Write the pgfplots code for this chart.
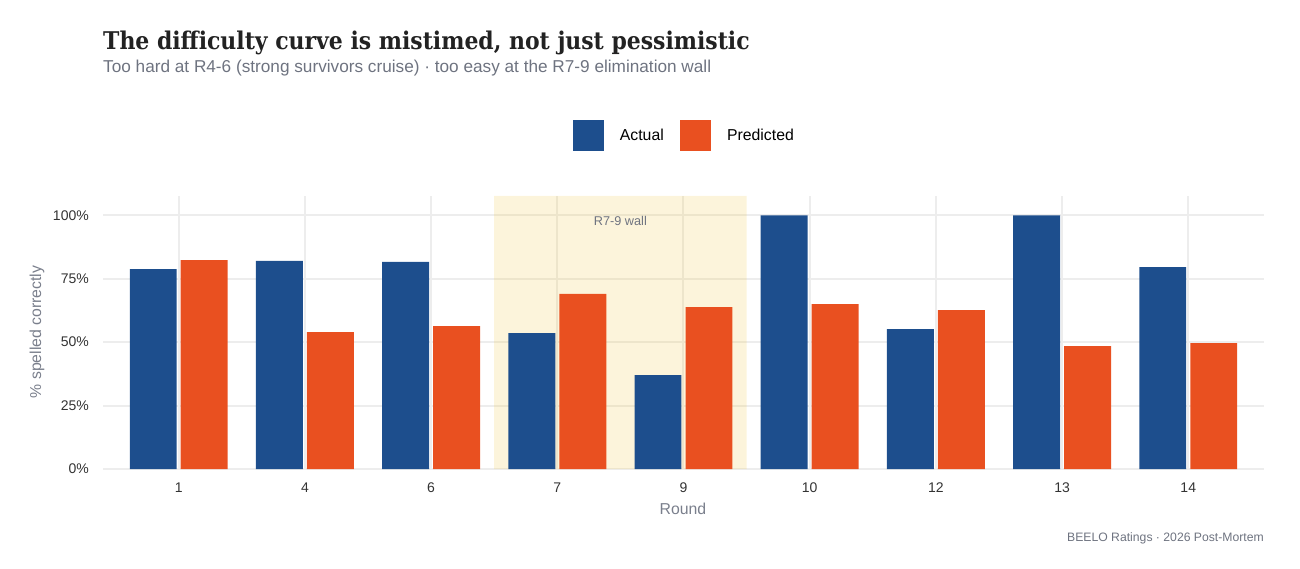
\documentclass[border=0pt]{standalone}
\usepackage{fontspec}
\setmainfont{Liberation Sans}
\newfontfamily\titlefont{DejaVu Serif Condensed}
\usepackage{pgfplots}
\usepackage{pgfplotstable}
\pgfplotsset{compat=1.18}
\definecolor{cBlue}{HTML}{1D4E8D}
\definecolor{cOrange}{HTML}{E95020}
\definecolor{cGrid}{HTML}{EDEDED}
\definecolor{cShade}{HTML}{F0BE28}
\definecolor{cTick}{HTML}{333333}
\definecolor{cSub}{HTML}{6E7380}
\definecolor{cAxis}{HTML}{7A7F8C}
\definecolor{cTitle}{HTML}{222222}

\pgfplotstableread{
x actual predicted
0 78.8 82.3
1 82.0 53.9
2 81.6 56.3
3 53.6 69.0
4 37.0 63.8
5 100 65.0
6 55.1 62.6
7 100 48.4
8 79.6 49.6
}\datatable

\begin{document}
\begin{tikzpicture}
\useasboundingbox (0pt,0pt) rectangle (1300pt,568pt);
\begin{axis}[
  at={(103pt,99pt)}, anchor=south west, scale only axis,
  width=1161pt, height=273pt,
  xmin=-0.6, xmax=8.6, ymin=0, ymax=107.6,
  axis line style={draw=none},
  major tick length=0pt,
  xtick={0,...,8}, xticklabels={1,4,6,7,9,10,12,13,14},
  ytick={0,25,50,75,100}, yticklabels={0\%,25\%,50\%,75\%,100\%},
  grid=major, major grid style={cGrid, line width=2pt},
  tick label style={font=\fontsize{14}{16}\selectfont, text=cTick},
  xticklabel style={anchor=base, yshift=-23.7pt, inner sep=0pt},
  yticklabel style={anchor=east, xshift=-14pt, inner sep=0pt},
  legend style={at={(0.5,1.2198)}, anchor=center, draw=none, fill=none,
    legend columns=2,
    /tikz/every odd column/.append style={column sep=15.8pt},
    /tikz/every even column/.append style={column sep=16.5pt},
    nodes={inner sep=0pt, font=\fontsize{15.8}{18}\selectfont, text=black}},
  legend image code/.code={\fill[#1] (0pt,-15.5pt) rectangle (31pt,15.5pt);},
]
\addplot[fill=cShade, fill opacity=0.17, draw=none, forget plot, sharp plot]
  coordinates {(2.5,0) (2.5,107.6) (4.5,107.6) (4.5,0)} \closedcycle;
\addplot[ybar, bar width=0.372, bar shift=-0.202, fill=cBlue, draw=none]
  table[x=x, y=actual] {\datatable};
\addlegendentry{Actual}
\addplot[ybar, bar width=0.372, bar shift=0.202, fill=cOrange, draw=none]
  table[x=x, y=predicted] {\datatable};
\addlegendentry{Predicted}
\node[font=\fontsize{12.7}{15}\selectfont, text=cSub] at (axis cs:3.5,97.9) {R7-9 wall};
\end{axis}
\node[anchor=base west, inner sep=0pt, font=\titlefont\bfseries\fontsize{24.4}{30}\selectfont, text=cTitle] at (103pt,518.7pt) {The difficulty curve is mistimed, not just pessimistic};
\node[anchor=base west, inner sep=0pt, font=\fontsize{17.2}{20}\selectfont, text=cSub] at (103pt,495.7pt) {Too hard at R4-6 (strong survivors cruise) · too easy at the R7-9 elimination wall};
\node[anchor=base, inner sep=0pt, font=\fontsize{15.8}{20}\selectfont, text=cAxis] at (683pt,53.7pt) {Round};
\node[rotate=90, inner sep=0pt, font=\fontsize{15.8}{20}\selectfont, text=cAxis] at (37pt,236pt) {\% spelled correctly};
\node[anchor=base east, inner sep=0pt, font=\fontsize{12.2}{16}\selectfont, text=cSub] at (1264pt,26.3pt) {BEELO Ratings · 2026 Post-Mortem};
\end{tikzpicture}
\end{document}
